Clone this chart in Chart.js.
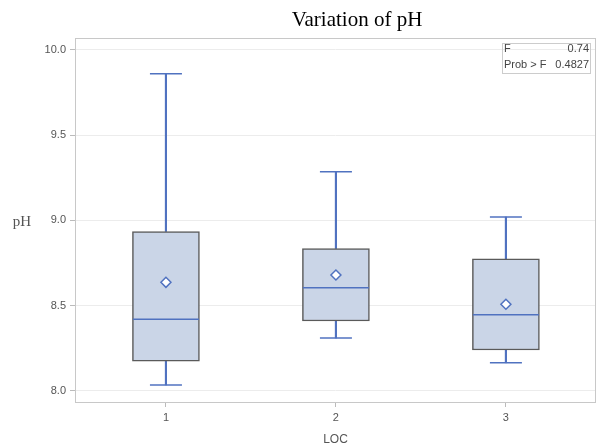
<!DOCTYPE html>
<html>
<head>
<meta charset="utf-8">
<script src="https://cdn.jsdelivr.net/npm/chart.js@4.4.0/dist/chart.umd.min.js"></script>
<style>
html, body { margin: 0; padding: 0; background: #fff; }
</style>
</head>
<body>
<canvas id="phChart" width="597" height="447"></canvas>
<script>
//Box plot values
const locs = [1, 2, 3];
const whiskerLow = [8.035, 8.31, 8.165];
const q1 = [8.175, 8.41, 8.24];
const median = [8.42, 8.605, 8.447];
const mean = [8.637, 8.68, 8.508];
const q3 = [8.935, 8.835, 8.775];
const whiskerHigh = [9.86, 9.285, 9.02];
const yTicks = [8.0, 8.5, 9.0, 9.5, 10.0];
const fValue = '0.74';
const probF = '0.4827';

const blue = '#5072c0';
const boxFill = '#cad5e7';

//Frame, title, y label and the F inset
const extras = {
    id: 'extras',
    afterDraw(chart) {
        const ctx = chart.ctx;
        const a = chart.chartArea;
        ctx.save();
        ctx.strokeStyle = '#c8c8c8';
        ctx.lineWidth = 1;
        ctx.strokeRect(a.left + 0.5, a.top + 0.5, a.right - a.left - 1, a.bottom - a.top);

        ctx.fillStyle = '#000';
        ctx.font = '21px "Liberation Serif"';
        ctx.textAlign = 'center';
        ctx.textBaseline = 'middle';
        ctx.fillText('Variation of pH', 357, 20);

        ctx.fillStyle = '#555';
        ctx.font = '15px "Liberation Serif"';
        ctx.fillText('pH', 22, 222);

        //inset box
        const bx = a.right - 94, by = a.top + 5, bw = 88, bh = 30;
        ctx.strokeStyle = '#cccccc';
        ctx.strokeRect(bx + 0.5, by + 0.5, bw, bh);
        ctx.fillStyle = '#444';
        ctx.font = '11px "Liberation Sans"';
        ctx.textAlign = 'left';
        ctx.fillText('F', bx + 2, by + 6);
        ctx.fillText('Prob > F', bx + 2, by + 22);
        ctx.textAlign = 'right';
        ctx.fillText(fValue, bx + bw - 1, by + 6);
        ctx.fillText(probF, bx + bw - 1, by + 22);
        ctx.restore();
    }
};

const boxData = locs.map((x, i) => ({ x: x, y: [q1[i], q3[i]] }));
const upperData = locs.map((x, i) => ({ x: x, y: [q3[i], whiskerHigh[i]] }));
const lowerData = locs.map((x, i) => ({ x: x, y: [whiskerLow[i], q1[i]] }));
const capData = locs.map((x, i) => ({ x: x, y: whiskerHigh[i] }))
    .concat(locs.map((x, i) => ({ x: x, y: whiskerLow[i] })));
const medianData = locs.map((x, i) => ({ x: x, y: median[i] }));
const meanData = locs.map((x, i) => ({ x: x, y: mean[i] }));

new Chart(document.getElementById('phChart'), {
    data: {
        datasets: [
            {
                type: 'scatter',
                data: meanData,
                pointStyle: 'rectRot',
                pointRadius: 5,
                pointBorderWidth: 1.5,
                pointBorderColor: blue,
                pointBackgroundColor: '#fff',
                order: 1
            },
            {
                type: 'scatter',
                data: medianData,
                pointStyle: 'line',
                pointRadius: 33,
                pointBorderWidth: 1.5,
                pointBorderColor: blue,
                order: 2
            },
            {
                type: 'scatter',
                data: capData,
                pointStyle: 'line',
                pointRadius: 16,
                pointBorderWidth: 1.5,
                pointBorderColor: blue,
                order: 3
            },
            {
                type: 'bar',
                data: boxData,
                backgroundColor: boxFill,
                borderColor: '#5a5a5a',
                borderWidth: 1.5,
                borderSkipped: false,
                barThickness: 67,
                grouped: false,
                order: 4
            },
            {
                type: 'bar',
                data: upperData,
                backgroundColor: blue,
                borderWidth: 0,
                barThickness: 1.5,
                grouped: false,
                order: 5
            },
            {
                type: 'bar',
                data: lowerData,
                backgroundColor: blue,
                borderWidth: 0,
                barThickness: 1.5,
                grouped: false,
                order: 5
            }
        ]
    },
    options: {
        responsive: false,
        animation: false,
        events: [],
        layout: {
            autoPadding: false,
            padding: { left: 0, top: 38, right: 1, bottom: 0 }
        },
        scales: {
            x: {
                type: 'linear',
                offset: false,
                min: 0.465,
                max: 3.53,
                afterBuildTicks: function(scale) {
                    scale.ticks = locs.map(v => ({ value: v }));
                },
                afterFit: function(scale) {
                    scale.height = 45;
                    scale.paddingLeft = 0;
                    scale.paddingRight = 0;
                },
                border: { display: false },
                grid: {
                    offset: false,
                    drawOnChartArea: false,
                    tickLength: 5,
                    tickColor: '#bbbbbb'
                },
                ticks: {
                    color: '#555',
                    font: { family: 'Liberation Sans', size: 11 },
                    padding: 4,
                    maxRotation: 0,
                    callback: v => String(v)
                },
                title: {
                    display: true,
                    text: 'LOC',
                    color: '#555',
                    font: { family: 'Liberation Sans', size: 12 },
                    padding: { top: 3, bottom: 0 }
                }
            },
            y: {
                min: 7.935,
                max: 10.07,
                afterBuildTicks: function(scale) {
                    scale.ticks = yTicks.map(v => ({ value: v }));
                },
                afterFit: function(scale) { scale.width = 75; },
                border: { display: false },
                grid: {
                    color: '#ececec',
                    tickLength: 5,
                    tickColor: '#bbbbbb'
                },
                ticks: {
                    color: '#555',
                    font: { family: 'Liberation Sans', size: 11 },
                    padding: 4,
                    callback: v => v.toFixed(1)
                }
            }
        },
        plugins: {
            legend: { display: false },
            tooltip: { enabled: false },
            title: { display: false }
        }
    },
    plugins: [extras]
});
</script>
</body>
</html>
